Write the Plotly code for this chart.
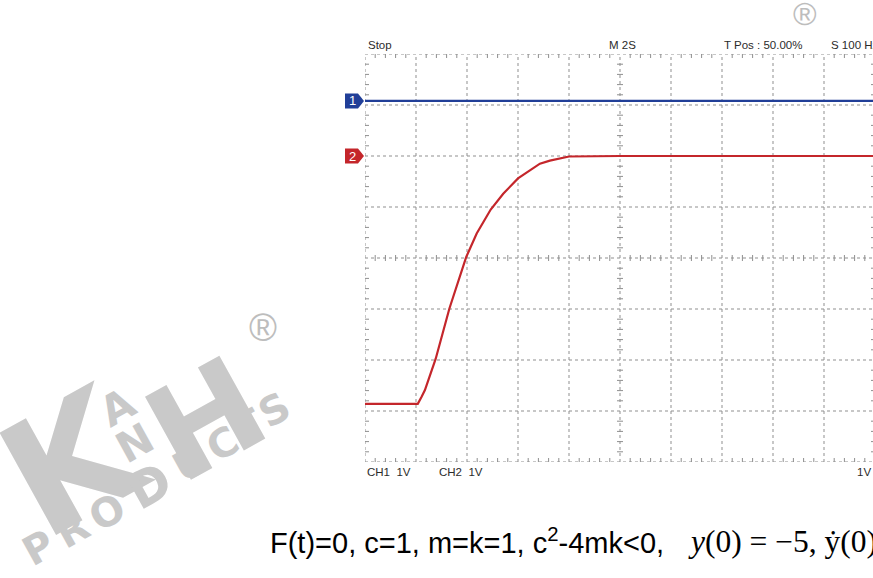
import numpy as np
import plotly.graph_objects as go

# ---- scope settings -------------------------------------------------------
SEC_PER_DIV = 2.0          # M 2S
VOLT_PER_DIV = 1.0         # CH1 1V, CH2 1V
N_XDIV, N_YDIV = 10, 8
CH1_POS = 3.08             # channel ground markers, in divisions from centre
CH2_POS = 2.0

# ---- traces ---------------------------------------------------------------
time_ch1 = [0.0, 20.0]
volts_ch1 = [0.0, 0.0]

time_ch2 = [0.0, 2.07, 2.22, 2.35, 2.77, 3.31, 3.97, 4.38, 4.93, 5.42,
            6.0, 6.86, 7.25, 8.0, 10.0, 14.0, 20.0]
volts_ch2 = [-4.86, -4.86, -4.72, -4.59, -3.98, -2.99, -1.98, -1.52, -1.05, -0.74,
             -0.44, -0.15, -0.09, -0.01, 0.0, 0.0, 0.0]

header_labels = ["Stop", "M 2S", "T Pos : 50.00%", "S 100 Hz"]
footer_labels = ["CH1\u00a0\u00a01V", "CH2\u00a0\u00a01V", "1V"]

BLUE = "#213f98"
RED = "#c4262b"
GRID = "#8f8f8f"
MARK = "#c9c9c9"
SANS = "Liberation Sans"

W, H = 873, 578
PL, PR, PT, PB = 365, 873, 54, 462          # plot box in page pixels
x_full = N_XDIV * SEC_PER_DIV
x_max = x_full * (PR - PL) / (N_XDIV * 51.0)


def px(x):
    return (x - PL) / (PR - PL)


def py(y):
    return (PB - y) / (PB - PT)


def div_to_paper(d):
    return (d + N_YDIV / 2) / N_YDIV


fig = go.Figure()

fig.add_trace(go.Scatter(
    x=time_ch1, y=[CH1_POS + v / VOLT_PER_DIV for v in volts_ch1],
    mode="lines", line=dict(color=BLUE, width=2.4), hoverinfo="skip"))
fig.add_trace(go.Scatter(
    x=time_ch2, y=[CH2_POS + v / VOLT_PER_DIV for v in volts_ch2],
    mode="lines", line=dict(color=RED, width=2.2),
    hoverinfo="skip"))

shapes = []
dash = "3px,3px"
# graticule lines (including the border)
for i in range(N_XDIV + 1):
    t = i * SEC_PER_DIV
    shapes.append(dict(type="line", xref="x", yref="y", x0=t, x1=t,
                       y0=-N_YDIV / 2, y1=N_YDIV / 2,
                       line=dict(color=GRID, width=1, dash=dash), layer="below"))
for j in range(N_YDIV + 1):
    d = j - N_YDIV / 2
    shapes.append(dict(type="line", xref="x", yref="y", x0=0, x1=x_full,
                       y0=d, y1=d,
                       line=dict(color=GRID, width=1, dash=dash), layer="below"))

# minor ticks: inward on the border, crossing on the centre lines
tx = 4 / 51.0 * SEC_PER_DIV
ty = 4 / 51.0
minor_t = [k * SEC_PER_DIV / 5 for k in range(N_XDIV * 5 + 1) if k % 5]
minor_d = [k / 5 - N_YDIV / 2 for k in range(N_YDIV * 5 + 1) if k % 5]
tick_line = dict(color=GRID, width=1)
for t in minor_t:
    shapes.append(dict(type="line", xref="x", yref="y", x0=t, x1=t,
                       y0=N_YDIV / 2, y1=N_YDIV / 2 - ty, line=tick_line, layer="below"))
    shapes.append(dict(type="line", xref="x", yref="y", x0=t, x1=t,
                       y0=-N_YDIV / 2, y1=-N_YDIV / 2 + ty, line=tick_line, layer="below"))
    shapes.append(dict(type="line", xref="x", yref="y", x0=t, x1=t,
                       y0=-ty * 0.75, y1=ty * 0.75, line=tick_line, layer="below"))
for d in minor_d:
    shapes.append(dict(type="line", xref="x", yref="y", x0=0, x1=tx,
                       y0=d, y1=d, line=tick_line, layer="below"))
    shapes.append(dict(type="line", xref="x", yref="y", x0=x_full, x1=x_full - tx,
                       y0=d, y1=d, line=tick_line, layer="below"))
    shapes.append(dict(type="line", xref="x", yref="y",
                       x0=x_full / 2 - tx * 0.75, x1=x_full / 2 + tx * 0.75,
                       y0=d, y1=d, line=tick_line, layer="below"))

# channel ground markers on the left edge
ann = []
for label, pos, col in (("1", CH1_POS, BLUE), ("2", CH2_POS, RED)):
    shapes.append(dict(type="path", xref="paper", yref="paper",
                       xsizemode="pixel", ysizemode="pixel",
                       xanchor=0, yanchor=div_to_paper(pos),
                       path="M-20,-7.5 L-7,-7.5 L-1,0 L-7,7.5 L-20,7.5 Z",
                       fillcolor=col, line=dict(width=0)))
    ann.append(dict(text=label, xref="paper", yref="paper", x=px(352),
                    y=div_to_paper(pos), showarrow=False,
                    xanchor="center", yanchor="middle",
                    font=dict(family=SANS, size=13, color="white")))

hdr_font = dict(family=SANS, size=11.5, color="#2b2b2b")
for label, left in zip(header_labels, (366, 607, 722, 829)):
    ann.append(dict(text=label, xref="paper", yref="paper", x=px(left), y=py(45),
                    xanchor="left", yanchor="middle", showarrow=False, font=hdr_font))
for label, left in zip(footer_labels[:2], (365, 437)):
    ann.append(dict(text=label, xref="paper", yref="paper", x=px(left), y=py(472),
                    xanchor="left", yanchor="middle", showarrow=False, font=hdr_font))
ann.append(dict(text=footer_labels[2], xref="paper", yref="paper", x=px(873), y=py(472),
                xanchor="right", yanchor="middle", showarrow=False, font=hdr_font))

# caption with the system parameters
ann.append(dict(text="F(t)=0, c=1, m=k=1, c<sup>2</sup>-4mk&lt;0,",
                xref="paper", yref="paper", x=px(268), y=py(541),
                xanchor="left", yanchor="middle", showarrow=False,
                font=dict(family=SANS, size=29, color="black")))
ann.append(dict(text="<i>y</i>(0) = \u22125, \u1e8f(0) = 0",
                xref="paper", yref="paper", x=px(686), y=py(541),
                xanchor="left", yanchor="middle", showarrow=False,
                font=dict(family="Liberation Serif", size=31.5, color="black")))

# K&H Products logo
logo = [
    ("K", 72, 462, 160),
    ("A", 117, 407, 42),
    ("N", 134, 443, 42),
    ("H", 206, 420, 130),
]
for ch, x, y, s in logo:
    ann.append(dict(text="<b>%s</b>" % ch, xref="paper", yref="paper",
                    x=px(x), y=py(y), xanchor="center", yanchor="middle",
                    textangle=-29, showarrow=False,
                    font=dict(family="DejaVu Sans", size=s, color=MARK)))
word = "PRODUCTS"
word_xy = [(38, 548), (72, 530), (107, 512), (150, 486),
           (190, 463), (222, 444), (248, 426), (274, 410)]
for ch, (x, y) in zip(word, word_xy):
    ann.append(dict(text="<b>%s</b>" % ch, xref="paper", yref="paper",
                    x=px(x), y=py(y),
                    xanchor="center", yanchor="middle", textangle=-29,
                    showarrow=False,
                    font=dict(family="DejaVu Sans", size=40 if ch != "D" else 50,
                              color=MARK)))
for x, y, s in ((263, 328, 38), (805, 14, 32)):
    ann.append(dict(text="\u00ae", xref="paper", yref="paper", x=px(x), y=py(y),
                    xanchor="center", yanchor="middle", showarrow=False,
                    font=dict(family=SANS, size=s, color="#bdbdbd")))

fig.update_layout(
    width=W, height=H,
    margin=dict(l=PL, r=W - PR, t=PT, b=H - PB, pad=0),
    paper_bgcolor="white", plot_bgcolor="white",
    showlegend=False,
    xaxis=dict(range=[0, x_max], visible=False, fixedrange=True),
    yaxis=dict(range=[-N_YDIV / 2, N_YDIV / 2], visible=False, fixedrange=True),
    shapes=shapes, annotations=ann,
)

fig.write_html("out.html")
